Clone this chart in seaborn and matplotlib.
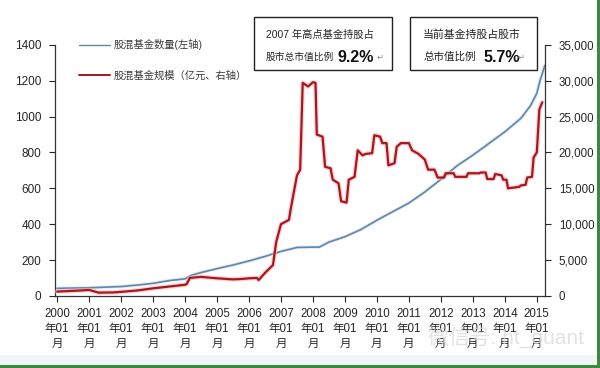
import matplotlib.pyplot as plt
import numpy as np
import seaborn as sns
from matplotlib.lines import Line2D
from matplotlib.patches import Rectangle
from matplotlib.ticker import FuncFormatter, MultipleLocator

# Données
years = list(range(2000, 2016))
year_labels = [f"{y}\n年01\n月" for y in years]

# nombre de fonds actions/mixtes (axe gauche)
count_x = [2000.0, 2001.0, 2002.0, 2002.5, 2003.0, 2003.5, 2004.0, 2004.2, 2004.5,
           2005.0, 2005.5, 2006.0, 2006.5, 2007.0, 2007.5, 2008.0, 2008.2, 2008.5,
           2009.0, 2009.5, 2010.0, 2010.5, 2011.0, 2011.5, 2012.0, 2012.5, 2013.0,
           2013.5, 2014.0, 2014.5, 2014.8, 2015.0, 2015.1, 2015.25]
count_y = [42, 45, 52, 60, 70, 85, 95, 115, 130,
           152, 172, 195, 220, 248, 270, 272, 272, 300,
           330, 370, 422, 470, 518, 580, 650, 725, 785,
           850, 915, 990, 1060, 1130, 1200, 1285]

# encours des fonds (亿元, axe droit)
size_x = [2000.0, 2000.5, 2001.0, 2001.1, 2001.3, 2001.75, 2002.0, 2002.5, 2003.0,
          2003.5, 2004.0, 2004.05, 2004.15, 2004.5, 2004.75, 2005.0, 2005.5, 2005.75,
          2006.0, 2006.25, 2006.3, 2006.5, 2006.75, 2006.85, 2007.0, 2007.25, 2007.3,
          2007.5, 2007.6, 2007.68, 2007.75, 2007.85, 2008.0, 2008.08, 2008.12, 2008.3,
          2008.38, 2008.55, 2008.62, 2008.8, 2008.88, 2009.05, 2009.12, 2009.3, 2009.4,
          2009.55, 2009.65, 2009.85, 2009.92, 2010.1, 2010.17, 2010.3, 2010.36, 2010.55,
          2010.62, 2010.75, 2011.0, 2011.1, 2011.3, 2011.5, 2011.6, 2011.8, 2011.9,
          2012.1, 2012.15, 2012.4, 2012.45, 2012.8, 2012.85, 2013.2, 2013.25, 2013.4,
          2013.45, 2013.65, 2013.7, 2013.9, 2013.95, 2014.05, 2014.1, 2014.45, 2014.5,
          2014.65, 2014.7, 2014.85, 2014.9, 2015.0, 2015.08, 2015.17]
size_y = [600, 700, 820, 700, 450, 480, 560, 750, 1050,
          1300, 1550, 1650, 2500, 2650, 2550, 2450, 2300, 2350,
          2450, 2500, 2200, 3200, 4300, 7500, 10000, 10600, 12000,
          16800, 17600, 29700, 29500, 29200, 29800, 29700, 22500, 22200,
          18000, 17800, 16200, 15700, 13200, 13000, 16200, 16600, 20300,
          19600, 19800, 19900, 22400, 22200, 21300, 21300, 18200, 18500,
          20800, 21300, 21300, 20300, 19800, 19000, 17600, 17600, 16500,
          16500, 17100, 17100, 16600, 16600, 17100, 17100, 17200, 17200,
          16300, 16300, 17000, 16800, 16200, 16200, 15000, 15200, 15400,
          15500, 16500, 16600, 19300, 20000, 26000, 27000]

legend_labels = ["股混基金数量(左轴)", "股混基金规模（亿元、右轴）"]

blue = "#5f86ad"
red = "#a8161e"

sns.set_style("white")
plt.rcParams['font.family'] = ['Liberation Sans', 'Noto Sans CJK SC', 'DejaVu Sans']

fig = plt.figure(figsize=(6, 3.68), dpi=100)
ax = fig.add_axes([0.092, 0.196, 0.816, 0.682])
ax2 = ax.twinx()

# courbes avec un léger halo comme sur l'image
sns.lineplot(x=count_x, y=count_y, ax=ax, color="#c3d3e3", lw=2.6, alpha=0.45)
sns.lineplot(x=count_x, y=count_y, ax=ax, color=blue, lw=1.2)
sns.lineplot(x=size_x, y=size_y, ax=ax2, color="#f3b3b6", lw=3.4, alpha=0.55)
sns.lineplot(x=size_x, y=size_y, ax=ax2, color=red, lw=1.6)

ax.set_xlim(1999.94, 2015.25)
ax.set_ylim(0, 1400)
ax2.set_ylim(0, 35000)
ax.yaxis.set_major_locator(MultipleLocator(200))
ax2.yaxis.set_major_locator(MultipleLocator(5000))
ax2.yaxis.set_major_formatter(FuncFormatter(lambda v, p: f"{int(v):,}"))
ax.set_xticks(years)
ax.set_xticklabels(year_labels, fontsize=8.3, linespacing=1.3)

for a in (ax, ax2):
    a.set_xlabel("")
    a.set_ylabel("")
    a.spines['top'].set_visible(False)
    for s in a.spines.values():
        s.set_color("#333333")
        s.set_linewidth(0.9)
ax.spines['right'].set_visible(False)
ax2.spines['left'].set_visible(False)
ax2.spines['bottom'].set_visible(False)

ax.tick_params(axis='y', direction='out', length=4, width=0.8, pad=6, labelsize=8.5, left=True)
ax.tick_params(axis='x', direction='out', length=4, width=0.8, pad=5, bottom=True)
ax2.tick_params(axis='y', direction='out', length=4, width=0.8, pad=6, labelsize=8.3, right=True)

handles = [Line2D([], [], color=blue, lw=1.0), Line2D([], [], color=red, lw=1.4)]
leg = ax2.legend(handles, legend_labels, loc='upper left', bbox_to_anchor=(0.03, 1.06),
                 frameon=False, fontsize=7.4, handlelength=3.0, handletextpad=0.4,
                 labelspacing=1.95)
for t in leg.get_texts():
    t.set_color("#3a3a3a")

# encadrés d'annotation
def box(x0, x1, y0, y1):
    fig.patches.append(Rectangle((x0 / 600, 1 - y1 / 368), (x1 - x0) / 600, (y1 - y0) / 368,
                                 transform=fig.transFigure, fill=True, facecolor="white",
                                 edgecolor="#222222", lw=1.0, zorder=5))

box(254, 392, 17, 70)
box(410, 537, 17, 70)

def ftxt(x, y, s, z=6, **kw):
    fig.text(x / 600, 1 - y / 368, s, va='center', ha='left', zorder=z, **kw)

ftxt(266, 35, "2007 年高点基金持股占", fontsize=7.4, color="#222222")
ftxt(266, 57, "股市总市值比例", fontsize=7.0, color="#222222")
ftxt(338, 57, "9.2%", fontsize=11.5, fontweight='bold', color="#111111")
ftxt(377, 58, "↵", fontsize=6, color="#888888")

ftxt(423, 35, "当前基金持股占股市", fontsize=7.8, color="#222222")
ftxt(423, 57, "总市值比例", fontsize=7.6, color="#222222")
ftxt(484, 57, "5.7%", fontsize=11.5, fontweight='bold', color="#111111")
ftxt(518, 58, "↵", fontsize=6, color="#888888")

# filigrane et bordure verte
ftxt(428, 337, "微信号: ht_quant", z=0, fontsize=15, color="#d8d8d8", alpha=0.75)
fig.patches.append(Rectangle((0, 3 / 368), 1, 10 / 368, transform=fig.transFigure,
                             facecolor="#f2f5f8", edgecolor="none", zorder=0))
fig.patches.append(Rectangle((0, 0), 1, 3 / 368, transform=fig.transFigure,
                             facecolor="#3b8a3b", edgecolor="none", zorder=7))
fig.patches.append(Rectangle((597 / 600, 0), 3 / 600, 1, transform=fig.transFigure,
                             facecolor="#3b8a3b", edgecolor="none", zorder=7))

fig.savefig("out.png", dpi=100)
